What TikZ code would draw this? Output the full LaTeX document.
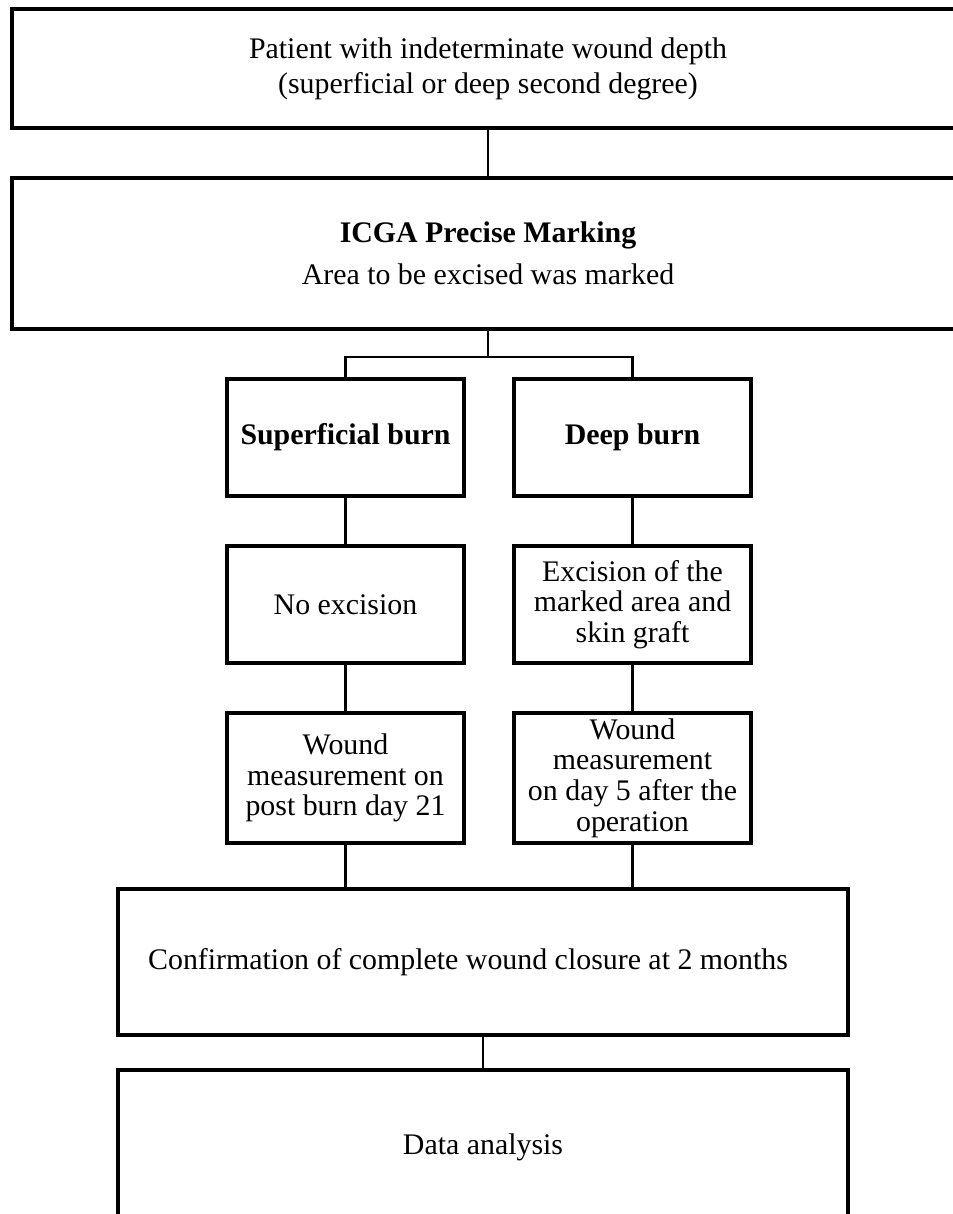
\documentclass[tikz,border=0pt]{standalone}
\usepackage{fontspec}
\setmainfont{Liberation Serif}
\usetikzlibrary{positioning}

\tikzset{
  bigbox/.style={draw, line width=1.8pt, align=center, inner sep=0pt, outer sep=0pt, minimum width=19.04cm, font=\fontsize{17}{20}\selectfont},
  smallbox/.style={draw, line width=1.8pt, align=center, inner sep=0pt, outer sep=0pt, minimum width=4.74cm, minimum height=2.34cm, font=\fontsize{17}{17.5}\selectfont},
  link/.style={line width=1.2pt}
}

\begin{document}
\begin{tikzpicture}[node distance=1cm]
  \useasboundingbox (0,0) rectangle (19.06,-24.28);
  \clip (0,0) rectangle (19.06,-24.28);

  % Define nodes
  \node[bigbox, minimum height=2.38cm] (patient) at (9.76,-1.37) {Patient with indeterminate wound depth\\(superficial or deep second degree)};
  \node[bigbox, minimum height=3.02cm, below=of patient] (marking) {\textbf{ICGA Precise Marking}\\[4pt]Area to be excised was marked};
  \node[smallbox, below=of marking, xshift=-2.85cm] (sup)   {\textbf{Superficial burn}};
  \node[smallbox, right=of sup]                      (deep)  {\textbf{Deep burn}};
  \node[smallbox, below=of sup]                      (noexc) {No excision};
  \node[smallbox, below=of deep]                     (exc)   {Excision of the\\marked area and\\skin graft};
  \node[smallbox, minimum height=2.6cm, below=of noexc] (wsup)  {Wound\\measurement on\\post burn day 21};
  \node[smallbox, minimum height=2.6cm, below=of exc]   (wdeep) {Wound\\measurement\\on day 5 after the\\operation};
  \node[bigbox, minimum width=14.6cm, minimum height=2.92cm] (closure) at (9.66,-19.24) {Confirmation of complete wound closure at 2 months\hspace*{0.6cm}};
  \node[bigbox, minimum width=14.6cm, minimum height=3.1cm, below=0.7cm of closure] (data) {Data analysis};

  % Connect the nodes
  \draw[link] (patient) -- (marking);
  \draw[link] (marking.south) -- ++(0,-0.56) coordinate (split) -| (sup);
  \draw[link] (split) -| (deep);
  \draw[link] (sup)   -- (noexc);
  \draw[link] (deep)  -- (exc);
  \draw[link] (noexc) -- (wsup);
  \draw[link] (exc)   -- (wdeep);
  \draw[link] (wsup)  -- (wsup |- closure.north);
  \draw[link] (wdeep) -- (wdeep |- closure.north);
  \draw[link] (closure) -- (data);
\end{tikzpicture}
\end{document}
